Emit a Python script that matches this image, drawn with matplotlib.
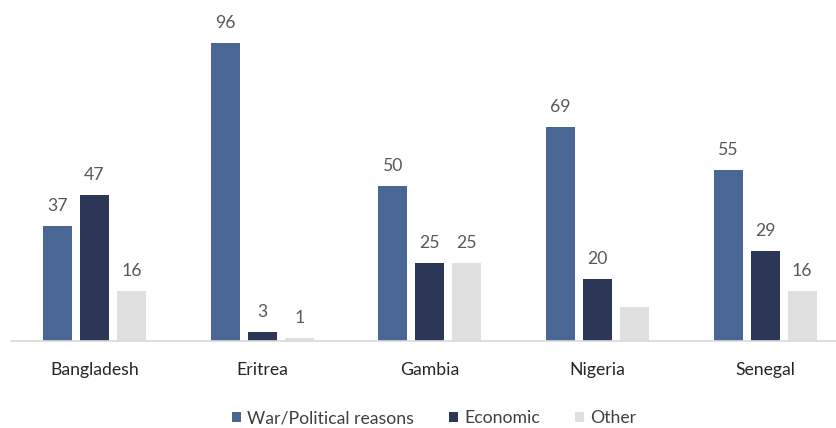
import numpy as np
import matplotlib.pyplot as plt

countries = ['Bangladesh', 'Eritrea', 'Gambia', 'Nigeria', 'Senegal']
war = [37, 96, 50, 69, 55]
economic = [47, 3, 25, 20, 29]
other = [16, 1, 25, 11, 16]
# Nigeria's "other" share carries no value label
show_other = [True, True, True, False, True]

series = [
    ('War/Political reasons', war, '#4A6794', [True] * 5),
    ('Economic', economic, '#2C3757', [True] * 5),
    ('Other', other, '#E0E0E0', show_other),
]

plt.rcParams['font.family'] = ['Lato', 'DejaVu Sans']

fig = plt.figure(figsize=(8.37, 4.28), dpi=100)
W, H = 837, 428
left, right, bottom, top = 10.7, 849.0, 341, 10
ax = fig.add_axes([left / W, (H - bottom) / H, (right - left) / W, (bottom - top) / H])

x = np.arange(len(countries))
width = 0.173
step = 0.221
for i, (name, vals, color, show) in enumerate(series):
    pos = x + (i - 1) * step
    bars = ax.bar(pos, vals, width, color=color, label=name, zorder=2)
    for b, v, s in zip(bars, vals, show):
        if s:
            ax.annotate(str(v), (b.get_x() + b.get_width() / 2, v),
                        xytext=(0, 14.5), textcoords='offset points',
                        ha='center', va='center', fontsize=12.7, color='#595959')

ax.set_xlim(-0.5, 4.5)
ax.set_ylim(0, (bottom - top) / 3.104)
ax.set_yticks([])
ax.set_xticks(x)
ax.set_xticklabels(countries, fontsize=12.7, color='#262626')
ax.tick_params(axis='x', length=0, pad=15)
for side in ['top', 'right', 'left']:
    ax.spines[side].set_visible(False)
ax.spines['bottom'].set_color('#D9D9D9')
ax.spines['bottom'].set_linewidth(1.2)

fig.legend(loc='center', bbox_to_anchor=(434 / W, 1 - 418 / H), ncol=3, frameon=False,
           fontsize=12.7, handlelength=0.5, handleheight=0.5, handletextpad=0.35,
           columnspacing=2.0, labelcolor='#404040')

fig.savefig('out.png', dpi=100)
